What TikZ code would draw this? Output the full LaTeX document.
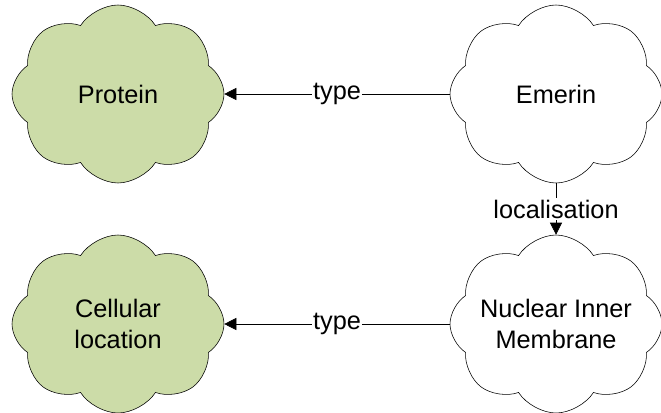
\documentclass[tikz,border=0pt]{standalone}
\usepackage{fontspec}
\setmainfont{Liberation Sans}
\usetikzlibrary{shapes.symbols, arrows.meta}
\definecolor{cloudgreen}{RGB}{204,220,168}

\begin{document}
\begin{tikzpicture}[
        concept/.style={draw, cloud, cloud puffs=8, cloud puff arc=115, aspect=1.2, fill=white, inner sep=0pt, minimum width=5.3cm, minimum height=4.45cm},
        klass/.style={concept, fill=cloudgreen},
        cloudtext/.style={align=center, font=\fontsize{18}{22}\selectfont},
        rel/.style={-{Triangle[length=0.3cm, width=0.3cm]}},
        lbl/.style={fill=white, inner sep=1pt, font=\fontsize{18}{22}\selectfont}
    ]

        \useasboundingbox (0,0) rectangle (16.525,10.3);

        % Classes
        \node[klass, label={[cloudtext]center:Protein}] (protein) at (2.95, 7.95) {};
        \node[klass, label={[cloudtext]center:Cellular\\location}] (cellloc) at (2.95, 2.2) {};

        % Instances
        \node[concept, label={[cloudtext]center:Emerin}] (emerin) at (13.9, 7.95) {};
        \node[concept, label={[cloudtext]center:Nuclear Inner\\Membrane}] (nim) at (13.9, 2.2) {};

        % Relations
        \draw[rel] (emerin) -- node[lbl] {type} (protein);
        \draw[rel] (nim) -- node[lbl] {type} (cellloc);
        \draw[rel] (emerin) -- node[lbl] {localisation} (nim);

    \end{tikzpicture}
\end{document}
